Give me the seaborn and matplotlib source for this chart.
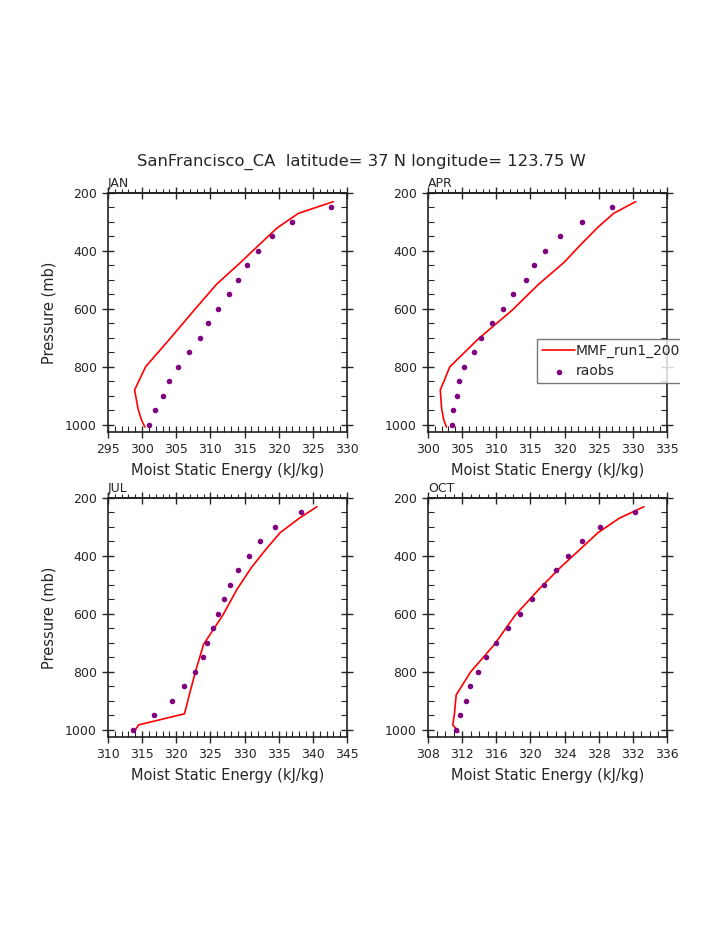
import matplotlib
matplotlib.use("Agg")
import matplotlib.pyplot as plt
from matplotlib.ticker import MultipleLocator
from matplotlib.transforms import Bbox, TransformedBbox
import seaborn as sns

# observation levels (mb) and model levels (mb)
obs_levels = [250, 300, 350, 400, 450, 500, 550, 600, 650, 700, 750, 800, 850, 900, 950, 1000]
mod_levels = [230, 270, 320, 375, 440, 515, 605, 705, 800, 880, 945, 983, 1008]

# moist static energy (kJ/kg), raobs
jan_obs = [327.7, 321.9, 319.0, 317.0, 315.4, 314.1, 312.7, 311.1, 309.6, 308.4, 306.8, 305.3, 304.0, 303.0, 301.9, 301.0]
apr_obs = [326.9, 322.6, 319.3, 317.2, 315.5, 314.3, 312.5, 311.0, 309.3, 307.7, 306.8, 305.3, 304.5, 304.3, 303.6, 303.5]
jul_obs = [338.3, 334.4, 332.2, 330.6, 329.1, 327.8, 327.0, 326.1, 325.4, 324.5, 323.9, 322.7, 321.2, 319.3, 316.8, 313.6]
oct_obs = [332.2, 328.2, 326.0, 324.4, 323.0, 321.6, 320.2, 318.8, 317.4, 316.0, 314.8, 313.8, 312.9, 312.5, 311.8, 311.3]

# moist static energy (kJ/kg), MMF_run1_2000
jan_mod = [328.0, 322.9, 319.8, 317.3, 314.4, 310.9, 307.6, 304.0, 300.5, 298.9, 299.4, 299.9, 300.4]
apr_mod = [330.4, 327.2, 324.8, 322.5, 319.9, 316.2, 312.3, 307.3, 303.2, 301.8, 302.0, 302.3, 302.7]
jul_mod = [340.6, 338.0, 335.2, 333.2, 331.0, 328.9, 326.8, 324.0, 322.8, 321.9, 321.2, 314.5, 313.8]
oct_mod = [333.3, 330.4, 327.9, 325.9, 323.5, 321.0, 318.2, 315.8, 313.0, 311.3, 311.1, 310.9, 311.6]

months = ["JAN", "APR", "JUL", "OCT"]
xlims = [(295, 330), (300, 335), (310, 345), (308, 336)]
xsteps = [5, 5, 5, 4]

sns.set_style("white")
plt.rcParams["font.family"] = ["DejaVu Sans"]

W, H = 723, 935
fig = plt.figure(figsize=(W / 100, H / 100), dpi=100)

# panel boxes in pixels: left, top, right, bottom
boxes = [(108, 193, 347, 432), (428, 193, 667, 432),
         (108, 498, 347, 737), (428, 498, 667, 737)]

obs_all = [jan_obs, apr_obs, jul_obs, oct_obs]
mod_all = [jan_mod, apr_mod, jul_mod, oct_mod]

axes = []
for i, (l, t, r, b) in enumerate(boxes):
    ax = fig.add_axes([l / W, 1 - b / H, (r - l) / W, (b - t) / H])
    axes.append(ax)
    sns.lineplot(x=mod_all[i], y=mod_levels, sort=False, estimator=None,
                 color="red", linewidth=1.2, ax=ax, label="MMF_run1_2000")
    sns.scatterplot(x=obs_all[i], y=obs_levels, color="purple", s=16,
                    linewidth=0, ax=ax, label="raobs", zorder=3)
    ax.get_legend().remove()

    ax.set_xlim(*xlims[i])
    ax.set_ylim(1025, 200)
    ax.xaxis.set_major_locator(MultipleLocator(xsteps[i]))
    ax.xaxis.set_minor_locator(MultipleLocator(1))
    ax.yaxis.set_major_locator(MultipleLocator(200))
    ax.yaxis.set_minor_locator(MultipleLocator(50))
    ax.tick_params(which="major", direction="inout", length=8, width=1,
                   labelsize=9, pad=4, left=True, right=True, bottom=True, top=False)
    ax.tick_params(which="minor", direction="in", length=4, width=0.8,
                   left=True, right=True, bottom=True, top=False)
    for s in ax.spines.values():
        s.set_color("#222222")
        s.set_linewidth(1.2)

    top = ax.secondary_xaxis("top")
    top.xaxis.set_major_locator(MultipleLocator(xsteps[i]))
    top.xaxis.set_minor_locator(MultipleLocator(1))
    top.tick_params(which="major", direction="inout", length=8, width=1, labeltop=False)
    top.tick_params(which="minor", direction="out", length=3, width=0.8)
    top.spines["top"].set_linewidth(1.2)
    top.spines["top"].set_color("#222222")

    ax.set_xlabel("Moist Static Energy (kJ/kg)", fontsize=10.5, labelpad=5)
    if i % 2 == 0:
        ax.set_ylabel("Pressure (mb)", fontsize=10.5, labelpad=6)
    else:
        ax.set_ylabel("")
    ax.text(0, 1.025, months[i], transform=ax.transAxes, ha="left",
            va="baseline", fontsize=9)

fig.text(0.5, 1 - 166 / H, "SanFrancisco_CA  latitude= 37 N longitude= 123.75 W",
         ha="center", va="baseline", fontsize=11.8)

handles, labels = axes[1].get_legend_handles_labels()
leg = fig.legend(handles, labels, loc="upper left",
                 bbox_to_anchor=(537 / W, 1 - 339 / H), fontsize=10,
                 frameon=True, fancybox=False, handlelength=2.4,
                 handletextpad=0.05, labelspacing=0.45, borderpad=0.35,
                 borderaxespad=0)
leg.get_frame().set_edgecolor("#555555")
leg.get_frame().set_linewidth(1)

# the legend box is cut off at the right, as in the original
clip = TransformedBbox(Bbox([[0, 0], [680 / W, 1]]), fig.transFigure)
for a in leg.findobj():
    a.set_clip_box(clip)
    a.set_clip_on(True)

fig.savefig("out.png", dpi=100)
